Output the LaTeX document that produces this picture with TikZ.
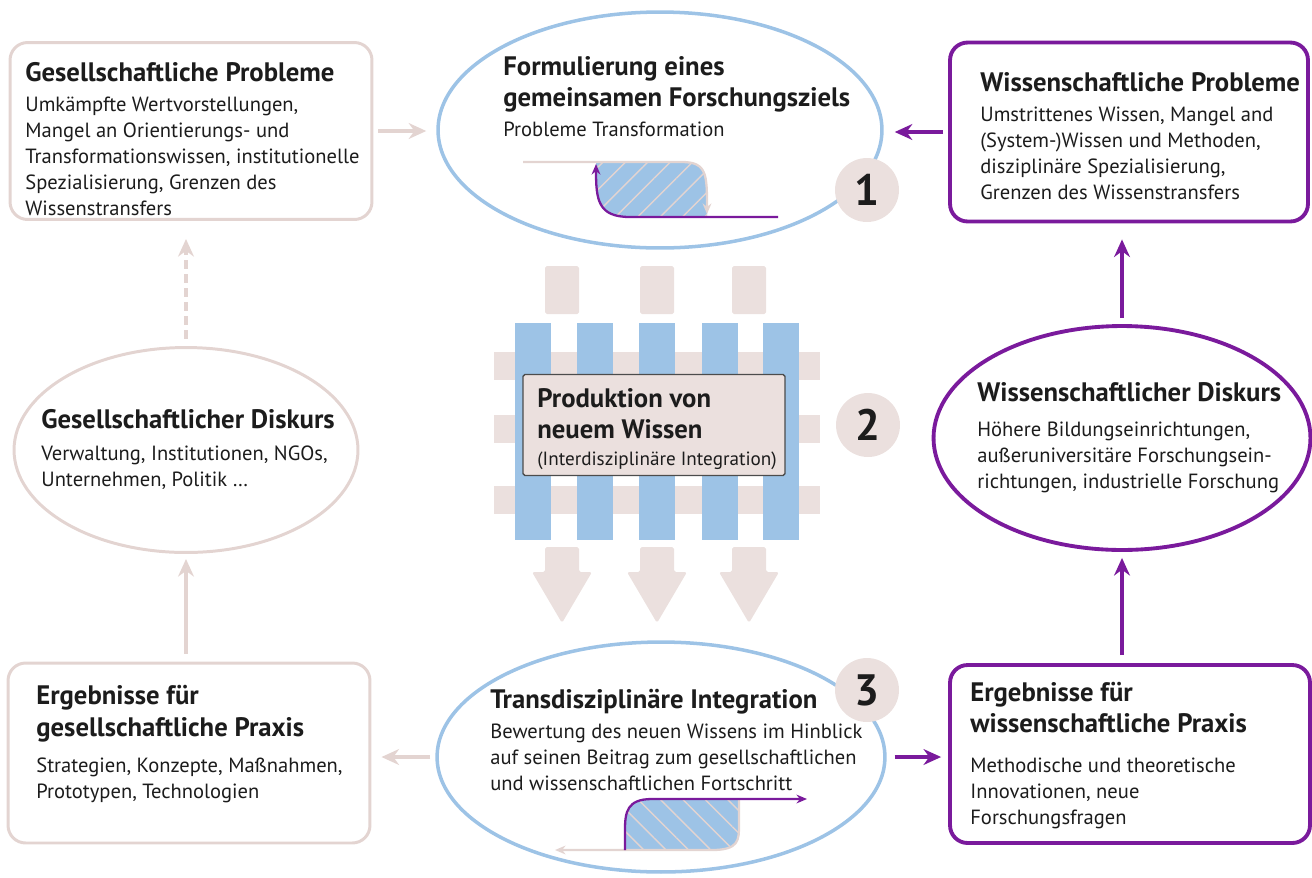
\documentclass[tikz,border=0pt]{standalone}
\usepackage{fontspec}
\setmainfont{PT Sans}
\usetikzlibrary{shapes.geometric,arrows.meta,patterns.meta}
\definecolor{rose}{HTML}{E3D4D1}
\definecolor{roselight}{HTML}{EBE0DE}
\definecolor{sky}{HTML}{9DC3E6}
\definecolor{lila}{HTML}{7A1A9C}
\definecolor{ink}{HTML}{1C1C1C}
\newcommand\hd{\fontsize{15.2}{17}\selectfont\bfseries}
\newcommand\bd{\fontsize{11.7}{14.8}\selectfont\lineskiplimit=-20pt}
\begin{document}
\begin{tikzpicture}[x=0.02cm, y=-0.02cm, text=ink,
    rbox/.style={draw=rose, line width=1.7pt, rounded corners=10pt, fill=white},
    pbox/.style={draw=lila, line width=2.2pt, rounded corners=10pt, fill=white},
    txt/.style={anchor=north west, align=left, inner sep=0pt, font=\bd},
    roval/.style={ellipse, draw=rose, line width=1.7pt, inner sep=0pt},
    boval/.style={ellipse, draw=sky, line width=2pt, inner sep=0pt},
    poval/.style={ellipse, draw=lila, line width=2.2pt, inner sep=0pt},
    badge/.style={circle, fill=roselight, minimum size=1.28cm, inner sep=0pt, font=\fontsize{25}{25}\selectfont\bfseries},
    rarr/.style={draw=rose, line width=2.2pt, -{Stealth[length=10pt,width=9pt]}},
    parr/.style={draw=lila, line width=2.2pt, -{Stealth[length=10pt,width=9pt]}},
    hatch/.style={pattern={Lines[angle=#1,distance=9pt,line width=0.8pt]}, pattern color=rose}]
  \useasboundingbox (0,0) rectangle (1312,877);

  % boxes and ellipses
  \node[rbox, minimum width=7.24cm, minimum height=3.54cm] (gp) at (191,131) {};
  \node[pbox, minimum width=7.16cm, minimum height=3.58cm] (wp) at (1129,132) {};
  \node[rbox, minimum width=7.24cm, minimum height=3.6cm] (ge) at (189,753) {};
  \node[pbox, minimum width=7.2cm, minimum height=3.56cm] (ew) at (1130,754) {};
  \node[boval, minimum width=8.88cm, minimum height=4.72cm] (fz) at (660,130) {};
  \node[boval, minimum width=8.96cm, minimum height=4.6cm] (ti) at (661,757) {};
  \node[roval, minimum width=6.88cm, minimum height=4.1cm] (gd) at (186,450) {};
  \node[poval, minimum width=7.54cm, minimum height=4.48cm] (wd) at (1122,438) {};

  % fence of knowledge production
  \foreach \x in {562,657,749}
    \fill[roselight, rounded corners=1pt] (\x-17,266) rectangle (\x+17,314);
  \foreach \y in {352,415,486}
    \fill[roselight] (494,\y) rectangle (820,\y+28);
  \foreach \x in {515,577,639,702,763}
    \fill[sky] (\x,323) rectangle (\x+36,540);
  \foreach \x in {562,657,749}
    \fill[roselight, rounded corners=1pt] (\x-17,547) -- (\x+17,547) -- (\x+17,572) -- (\x+30,572)
      -- (\x,623) -- (\x-30,572) -- (\x-17,572) -- cycle;
  \node[draw=black!70, fill=roselight, line width=0.8pt, rounded corners=1pt,
    minimum width=5.24cm, minimum height=2.02cm] (prod) at (654,425) {};

  % small curves
  \fill[sky, postaction={hatch=45}] (596,162) -- (682,162) .. controls (707,162) and (707,175) .. (707,195)
    -- (707,217) -- (630,217) .. controls (598,217) and (596,200) .. (596,180) -- cycle;
  \draw[rose, line width=1.3pt, -{Stealth[length=6pt,width=5pt]}] (523,162) -- (682,162)
    .. controls (707,162) and (707,175) .. (707,214);
  \draw[lila, line width=1.3pt, -{Stealth[length=6pt,width=5pt]}] (778,217) -- (630,217)
    .. controls (598,217) and (596,200) .. (596,164);
  \fill[sky, postaction={hatch=-45}] (625,850) -- (712,850) .. controls (739,850) and (739,840) .. (739,825)
    -- (739,799) -- (652,799) .. controls (627,799) and (625,812) .. (625,830) -- cycle;
  \draw[rose, line width=1.3pt, -{Stealth[length=6pt,width=5pt]}] (739,799) -- (739,825)
    .. controls (739,840) and (739,850) .. (712,850) -- (555,850);
  \draw[lila, line width=1.3pt, -{Stealth[length=6pt,width=5pt]}] (625,850) -- (625,830)
    .. controls (625,812) and (627,799) .. (652,799) -- (807,799);

  \node[badge] (b1) at (867,190) {1};
  \node[badge] (b2) at (868,425) {2};
  \node[badge] (b3) at (867,690) {3};

  % texts
  \node[txt] (gpT) at (25,62) {{\hd Gesellschaftliche Probleme}\\[2.3pt]
    Umkämpfte Wertvorstellungen,\\ Mangel an Orientierungs- und\\
    Transformationswissen, institutionelle\\ Spezialisierung, Grenzen des\\ Wissenstransfers};
  \node[txt] (fzT) at (503,56) {{\hd Formulierung eines}\\[2.8pt]{\hd gemeinsamen Forschungsziels}\\[2.3pt]
    Probleme Transformation};
  \node[txt] (wpT) at (980,72) {{\hd Wissenschaftliche Probleme}\\[2.3pt]
    Umstrittenes Wissen, Mangel and\\ (System-)Wissen und Methoden,\\
    disziplinäre Spezialisierung,\\ Grenzen des Wissenstransfers};
  \node[txt] (prodT) at (537,388) {{\hd Produktion von}\\[2.8pt]{\hd neuem Wissen}\\[0.6pt]
    {\fontsize{10.9}{14}\selectfont(Interdisziplinäre Integration)}};
  \node[txt] (gdT) at (41,409) {{\hd Gesellschaftlicher Diskurs}\\[3.4pt]
    Verwaltung, Institutionen, NGOs,\\ Unternehmen, Politik …};
  \node[txt] (wdT) at (977,382) {{\hd Wissenschaftlicher Diskurs}\\[5.1pt]
    Höhere Bildungseinrichtungen,\\ außeruniversitäre Forschungsein-\\
    richtungen, industrielle Forschung};
  \node[txt] (geT) at (36,685) {{\hd Ergebnisse für}\\[3.4pt]{\hd gesellschaftliche Praxis}\\[5.7pt]
    Strategien, Konzepte, Maßnahmen,\\ Prototypen, Technologien};
  \node[txt] (tiT) at (490,689) {{\hd Transdisziplinäre Integration}\\[2.3pt]
    Bewertung des neuen Wissens im Hinblick\\ auf seinen Beitrag zum gesellschaftlichen\\
    und wissenschaftlichen Fortschritt};
  \node[txt] (ewT) at (970,682) {{\hd Ergebnisse für}\\[2.8pt]{\hd wissenschaftliche Praxis}\\[8pt]
    Methodische und theoretische\\ Innovationen, neue\\ Forschungsfragen};

  % connectors
  \draw[rarr, shorten <=0.1cm, shorten >=0.2cm] (gp.east) -- (gp.east -| fz.west);
  \draw[parr, shorten <=0.1cm, shorten >=0.22cm] (wp.west) -- (wp.west -| fz.east);
  \draw[rarr, shorten <=0.1cm, shorten >=0.2cm] (ti.west) -- (ti.west -| ge.east);
  \draw[parr, shorten <=0.16cm, shorten >=0.14cm] (ti.east) -- (ti.east -| ew.west);
  \draw[rarr, shorten <=0.16cm, shorten >=0.1cm] (gd.south |- ge.north) -- (gd.south);
  \draw[rarr, dash pattern=on 5pt off 3pt, shorten <=0.14cm, shorten >=0.36cm] (gd.north) -- (gd.north |- gp.south);
  \draw[parr, shorten <=0.16cm, shorten >=0.12cm] (wd.south |- ew.north) -- (wd.south);
  \draw[parr, shorten <=0.12cm, shorten >=0.32cm] (wd.north) -- (wd.north |- wp.south);
\end{tikzpicture}
\end{document}
